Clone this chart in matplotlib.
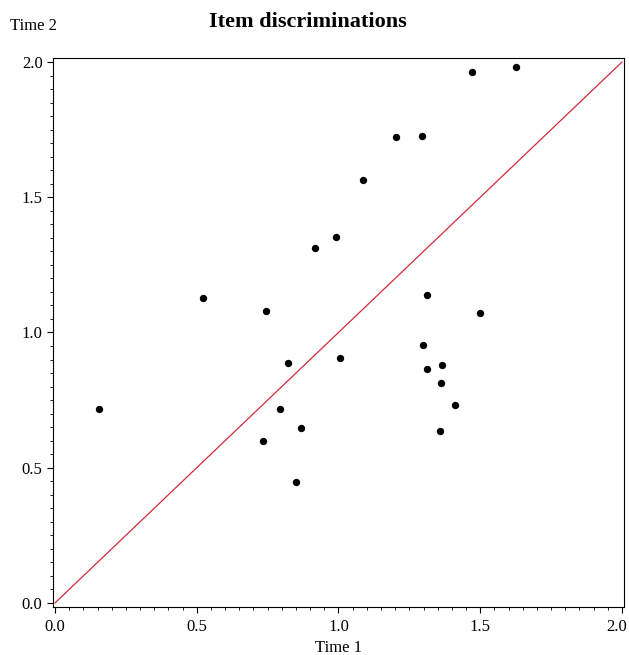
import matplotlib
matplotlib.use("Agg")
import matplotlib.pyplot as plt
from matplotlib.ticker import MultipleLocator, FuncFormatter

plt.rcParams['font.family'] = ['Liberation Serif', 'DejaVu Serif']

# item discriminations at the two time points
time1 = [0.155, 0.522, 0.744, 0.734, 0.794, 0.822, 0.850, 0.868, 0.917, 0.991,
         1.005, 1.086, 1.203, 1.295, 1.298, 1.312, 1.312, 1.365, 1.362, 1.358,
         1.411, 1.471, 1.499, 1.626]
time2 = [0.717, 1.128, 1.080, 0.599, 0.717, 0.887, 0.447, 0.647, 1.312, 1.353,
         0.906, 1.564, 1.723, 1.726, 0.954, 1.139, 0.865, 0.880, 0.813, 0.636,
         0.732, 1.963, 1.072, 1.981]
diag = [0.0, 2.0]

fig = plt.figure(figsize=(6.29, 6.55), dpi=100)
ax = fig.add_axes([0.0843, 0.0733, 0.9077, 0.8382])

ax.plot(diag, diag, color="#d42a3c", lw=0.9)
ax.plot(time1, time2, "o", color="black", ms=5.3, mew=0, zorder=3)

ax.set_xlim(-0.007, 2.007)
ax.set_ylim(-0.015, 2.015)
ax.xaxis.set_major_locator(MultipleLocator(0.5))
ax.yaxis.set_major_locator(MultipleLocator(0.5))
ax.xaxis.set_minor_locator(MultipleLocator(0.05))
ax.yaxis.set_minor_locator(MultipleLocator(0.05))
# the 2.0 label on x is drawn separately, nudged left so it fits in the figure
ax.xaxis.set_major_formatter(FuncFormatter(lambda v, p: "" if v > 1.99 else "%.1f" % v))
ax.yaxis.set_major_formatter(plt.FormatStrFormatter("%.1f"))
ax.tick_params(which="major", length=4, width=0.8, labelsize=12, direction="out")
ax.tick_params(axis="x", which="major", pad=5)
ax.tick_params(which="minor", length=2, width=0.6, direction="out")
for s in ax.spines.values():
    s.set_linewidth(0.8)

ax.annotate("2.0", xy=(2.0, 0), xycoords=("data", "axes fraction"),
            xytext=(-3.5, -9), textcoords="offset points",
            ha="center", va="top", fontsize=12)

ax.set_xlabel("Time 1", fontsize=12, labelpad=3)
fig.text(0.016, 0.960, "Time 2", fontsize=12, ha="left", va="center")
fig.text(0.49, 0.967, "Item discriminations", fontsize=16, fontweight="bold",
         ha="center", va="center")

fig.savefig("out.png", dpi=100)
